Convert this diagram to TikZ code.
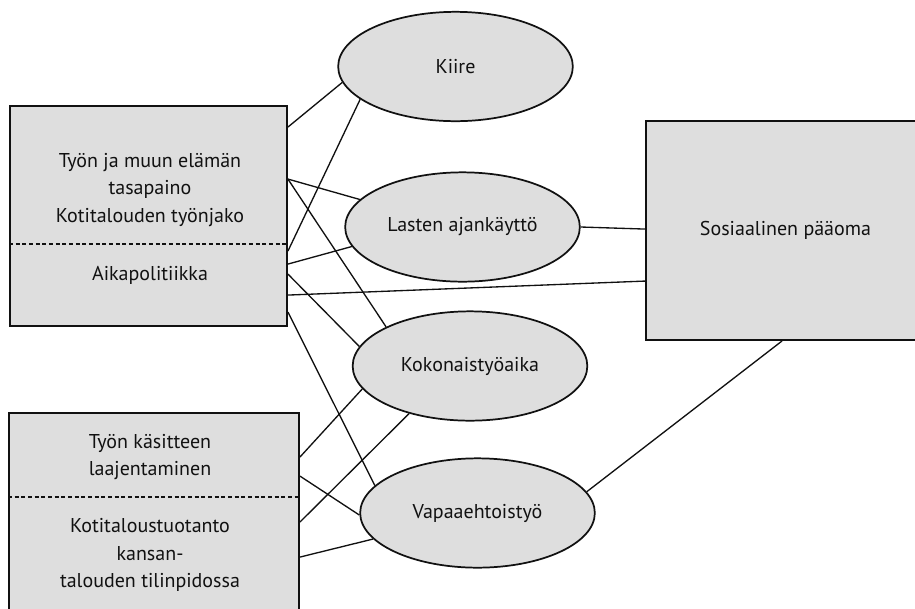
\documentclass[tikz,border=0pt]{standalone}
\usepackage{fontspec}
\setmainfont{PT Sans}
\usetikzlibrary{shapes.geometric,calc}
\definecolor{BoxFill}{HTML}{DEDEDE}
\definecolor{Ink}{HTML}{111111}
\tikzset{
  box/.style={draw=Ink,line width=1.4pt,fill=BoxFill,inner sep=0pt},
  oval/.style={ellipse,draw=Ink,line width=1.3pt,fill=BoxFill,inner sep=0pt,
               minimum width=176pt,minimum height=82pt},
  link/.style={draw=Ink,line width=1pt},
  divider/.style={draw=Ink,line width=0.9pt,dash pattern=on 3pt off 2pt},
  lbl/.style={align=center,font=\fontsize{15}{20.6}\selectfont,text=Ink},
}

\begin{document}
\begin{tikzpicture}[x=0.75pt,y=-0.75pt]
  \useasboundingbox (0,0) rectangle (915,608);
  \clip (0,0) rectangle (915,608);
  % boxes
  \node[box,minimum width=207.75pt,minimum height=165pt] (tyo) at (148.5,216) {};
  \node[box,minimum width=217.5pt,minimum height=155.25pt] (kasite) at (154,516.5) {};
  \node[box,lbl,minimum width=209.25pt,minimum height=164.25pt] (sos)
        at (785.5,230.5) {Sosiaalinen pääoma};
  \draw[divider] ($(tyo.north west)+(0,139)$) -- ($(tyo.north east)+(0,139)$);
  \draw[divider] ($(kasite.north west)+(0,85)$) -- ($(kasite.north east)+(0,85)$);
  \node[lbl] (tasapaino) at (150,190)
        {Työn ja muun elämän\\tasapaino\\Kotitalouden työnjako};
  \node[lbl] (aikapol) at (150,275) {Aikapolitiikka};
  \node[lbl] (laajent) at (150,457) {Työn käsitteen\\laajentaminen};
  \node[lbl] (tilinp) at (150,555)
        {Kotitaloustuotanto\\kansan-\\talouden tilinpidossa};
  % ellipses
  \node[oval,lbl] (kiire) at (455.5,66.5) {Kiire};
  \node[oval,lbl] (lapset) at (462.5,227) {Lasten ajankäyttö};
  \node[oval,lbl] (kokon) at (470,366) {Kokonaistyöaika};
  \node[oval,lbl] (vapaa) at (477.5,513) {Vapaaehtoistyö};
  % links from the upper left box
  \foreach \dy/\tgt in {22/kiire.188, 146/kiire.199, 74/lapset.165, 159/lapset.190,
                        74/kokon.155, 169/kokon.170, 207/vapaa.165}
    \draw[link] ($(tyo.north east)+(0,\dy)$) -- (\tgt);
  \draw[link] ($(tyo.north east)+(0,190)$) -- ($(sos.north west)+(0,161)$);
  % links from the lower left box
  \foreach \dy/\tgt in {45/kokon.192, 64/vapaa.181, 110/kokon.218, 145/vapaa.194}
    \draw[link] ($(kasite.north east)+(0,\dy)$) -- (\tgt);
  % links to the right box
  \draw[link] (lapset.east) -- ($(sos.north west)+(0,109)$);
  \draw[link] (vapaa.11) -- ($(sos.south west)+(137,0)$);
\end{tikzpicture}
\end{document}
